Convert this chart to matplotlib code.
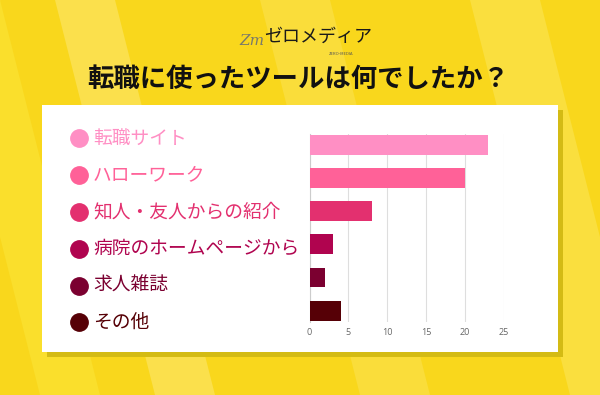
import matplotlib.pyplot as plt
from matplotlib.patches import Rectangle, Polygon

plt.rcParams['font.family'] = ['Noto Sans CJK JP', 'DejaVu Sans']

# データ
labels = ['転職サイト', 'ハローワーク', '知人・友人からの紹介', '病院のホームページから', '求人雑誌', 'その他']
values = [23, 20, 8, 3, 2, 4]
colors = ['#ff8fc4', '#ff6198', '#e3306f', '#b0044f', '#7b0030', '#560006']
xticks = [0, 5, 10, 15, 20, 25]
title = '転職に使ったツールは何でしたか？'

W, H = 600, 395
fig = plt.figure(figsize=(W / 100, H / 100), dpi=100)

# 背景 (ピクセル座標)
bg = fig.add_axes([0, 0, 1, 1])
bg.set_xlim(0, W)
bg.set_ylim(H, 0)
bg.axis('off')
bg.add_patch(Rectangle((0, 0), W, H, color='#f9d71c', zorder=0))
stripes = [
    ([(55, 0), (115, 0), (215, 395), (155, 395)], '#fbe04c'),
    ([(-60, 0), (0, 0), (100, 395), (40, 395)], '#fadf2c'),
    ([(260, 0), (330, 0), (430, 395), (360, 395)], '#fadd3a'),
    ([(470, 0), (540, 0), (640, 395), (570, 395)], '#fadf3e'),
]
for pts, c in stripes:
    bg.add_patch(Polygon(pts, closed=True, color=c, zorder=0.5, lw=0))

# パネル
bg.add_patch(Rectangle((47, 110), 516, 247, color='#d4bb14', zorder=1, lw=0))
bg.add_patch(Rectangle((42, 105), 516, 247, color='white', zorder=2, lw=0))

# ロゴ
bg.text(252, 41, 'Zm', fontsize=11, color='#7a7a6a', style='italic',
        family='DejaVu Serif', ha='center', va='center', zorder=3)
bg.text(318, 37, 'ゼロメディア', fontsize=13, color='#1a1a1a',
        ha='center', va='center', zorder=3)
bg.text(341, 54, 'ZERO-MEDIA', fontsize=3, color='#555555',
        ha='center', va='center', zorder=3)

# タイトル
bg.text(298, 79, title, fontsize=19, fontweight='bold', color='#111111',
        ha='center', va='center', zorder=3)

# 凡例
for i, (lab, c) in enumerate(zip(labels, colors)):
    y = 138.3 + 36.8 * i
    bg.plot(79, y, 'o', ms=12.5, color=c, zorder=3)
    bg.text(93, y, lab, fontsize=13.5, color=c, ha='left', va='center', zorder=3)

# 棒グラフ
ax = fig.add_axes([309.5 / W, (H - 322) / H, (504 - 309.5) / W, (322 - 133.5) / H])
ax.set_facecolor('none')
ax.barh(range(len(values)), values, height=0.6, color=colors, zorder=3)
ax.set_xlim(0, 25)
ax.set_ylim(5.345, -0.345)
ax.set_xticks(xticks)
ax.set_yticks([])
ax.grid(axis='x', color='#dedede', lw=0.8, zorder=0)
for s in ['top', 'right', 'bottom']:
    ax.spines[s].set_visible(False)
ax.spines['left'].set_color('#cccccc')
ax.spines['left'].set_linewidth(0.8)
ax.tick_params(axis='x', length=0, pad=4, labelsize=6.5, labelcolor='#666666')
for t in ax.get_xticklabels():
    t.set_family('Open Sans')

fig.savefig('out.png', dpi=100)
